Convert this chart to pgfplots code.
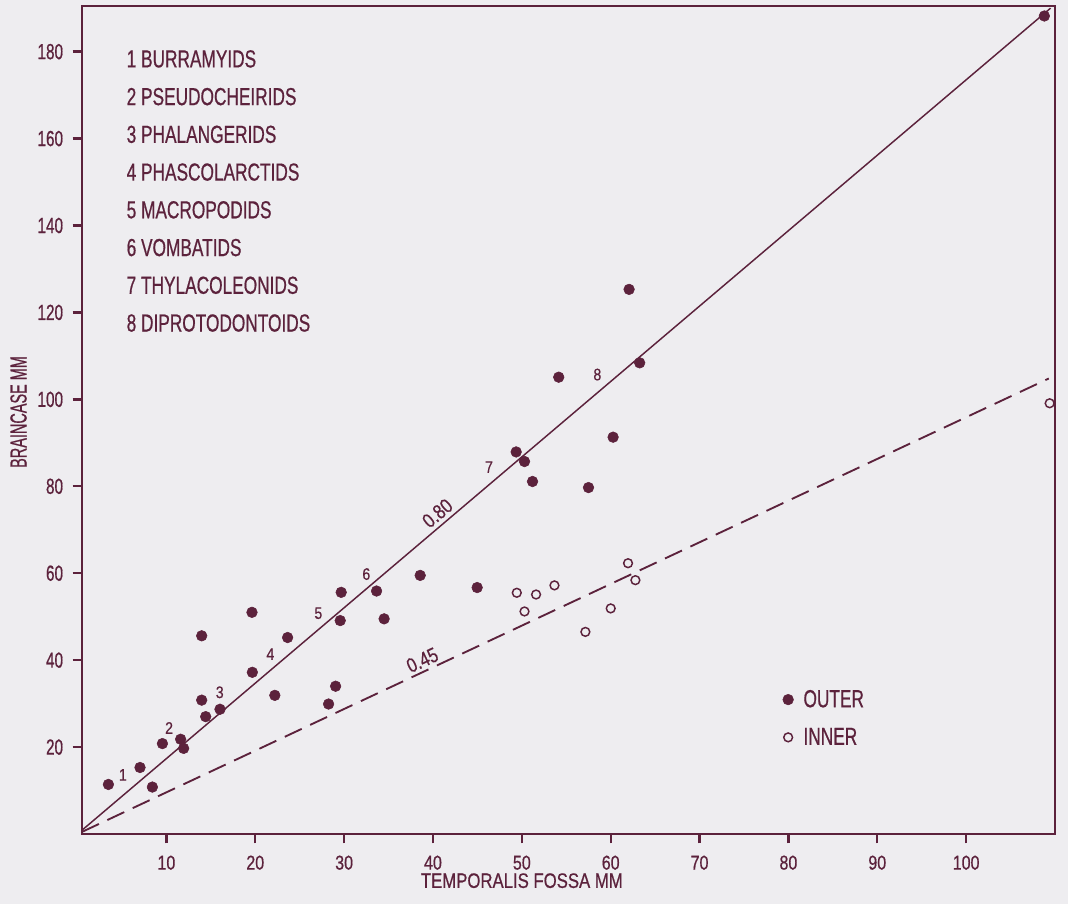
\documentclass[border=0pt]{standalone}
\usepackage{pgfplots}
\pgfplotsset{compat=1.18}
\usepackage{fontspec}
\setmainfont{Liberation Sans}[FakeStretch=0.72,FakeBold=0.6]
\newfontfamily\fA{Liberation Sans}[FakeStretch=0.70,FakeBold=0.6]
\newfontfamily\fY{Liberation Sans}[FakeStretch=0.62,FakeBold=0.6]
\newfontfamily\fB{Liberation Sans}[FakeStretch=0.80,FakeBold=0.6]
\newfontfamily\fC{Liberation Sans}[FakeStretch=0.85,FakeBold=0.6]
\definecolor{ink}{RGB}{92,34,60}
\definecolor{paper}{RGB}{238,237,240}
\begin{document}
\begin{tikzpicture}
\fill[paper] (-61.5pt,-52.5pt) rectangle (739.5pt,625.5pt);
\useasboundingbox (-61.5pt,-52.5pt) rectangle (739.5pt,625.5pt);
\begin{axis}[
  scale only axis, width=729.75pt, height=621pt,
  at={(0pt,0pt)}, anchor=south west,
  xmin=0.5, xmax=110, ymin=0, ymax=190.5,
  axis line style={ink, line width=2pt},
  xtick={10,20,...,100}, ytick={20,40,...,180},
  xtick pos=bottom, ytick pos=left,
  tick align=outside, major tick length=7pt,
  tick style={ink, line width=1.8pt},
  /pgf/number format/assume math mode=true,
  xticklabel style={font=\fB\fontsize{15}{17}\selectfont, text=ink, inner sep=0pt, yshift=-9pt},
  yticklabel style={font=\fA\fontsize{16.4}{18}\selectfont, text=ink, inner sep=0pt, xshift=-7pt},
  clip=false,
  legend style={draw=none, fill=none, at={(axis cs:79.3,33.5)}, anchor=north west,
    font=\fA\fontsize{18.5}{20}\selectfont, text=ink, row sep=12pt, inner sep=0pt,
    nodes={inner sep=1pt}},
  legend cell align=left,
  legend image code/.code={\path[draw=none,fill=none] (0cm,0cm) rectangle (0.52cm,0.01cm); \draw[#1] plot coordinates {(0.15cm,0cm)};},
]
% regression lines
\addplot[ink, line width=1.1pt, forget plot] coordinates {(0.5,0.87) (109.5,190)};
\addplot[ink, line width=1.4pt, dash pattern=on 14pt off 7pt, forget plot] coordinates {(0.5,0.48) (109.3,104.8)};
% outer
\addplot[only marks, mark=*, mark size=4pt, ink, mark options={fill=ink, draw=ink}] coordinates {
(3.47,11.4) (7.03,15.3) (8.42,10.8) (9.55,20.8) (11.6,21.8) (11.94,19.7)
(13.97,45.6) (13.97,30.8) (14.42,27.0) (16.03,28.7) (19.63,51.0) (19.67,37.2)
(22.2,31.9) (23.64,45.2) (28.25,29.9) (29.04,34.0) (29.67,55.6) (29.56,49.1)
(33.65,55.9) (34.5,49.5) (38.56,59.5) (44.97,56.7) (49.36,87.9) (50.3,85.7)
(51.2,81.1) (54.15,105.1) (57.5,79.7) (60.27,91.3) (62.07,125.3) (63.26,108.4)
(108.8,188.2)
};
\addlegendentry{OUTER}
% inner
\addplot[only marks, mark=o, mark size=3.3pt, ink, mark options={line width=1.1pt}] coordinates {
(49.43,55.5) (50.3,51.2) (51.6,55.1) (53.67,57.2) (57.15,46.5) (60.0,51.9)
(61.95,62.3) (62.78,58.4) (109.4,99.1)
};
\addlegendentry{INNER}
% group numbers
\begin{scope}[every node/.style={font=\fC\fontsize{12.5}{14}\selectfont, text=ink}]
\node at (axis cs:5.1,13.6) {1};
\node at (axis cs:10.3,24.4) {2};
\node at (axis cs:16.0,32.6) {3};
\node at (axis cs:21.7,41.4) {4};
\node at (axis cs:27.1,50.8) {5};
\node at (axis cs:32.5,59.8) {6};
\node at (axis cs:46.3,84.4) {7};
\node at (axis cs:58.5,105.7) {8};
\end{scope}
% slope labels
\node[font=\fB\fontsize{15.5}{17}\selectfont, text=ink, rotate=40.3, inner sep=0pt] at (axis cs:40.5,73.8) {0.80};
\node[font=\fB\fontsize{15.5}{17}\selectfont, text=ink, rotate=25.1, inner sep=0pt] at (axis cs:38.8,40.0) {0.45};
% key
\node[anchor=north west, inner sep=0pt, align=left, text=ink, font=\fA\fontsize{18.5}{28.3}\selectfont]
  at (axis cs:5.5,180.4) {1 BURRAMYIDS\\2 PSEUDOCHEIRIDS\\3 PHALANGERIDS\\4 PHASCOLARCTIDS\\5 MACROPODIDS\\6 VOMBATIDS\\7 THYLACOLEONIDS\\8 DIPROTODONTOIDS};
% axis labels
\node[anchor=north, inner sep=0pt, text=ink, font=\fB\fontsize{15.7}{18}\selectfont] at ([yshift=-29.25pt]axis cs:50,0) {TEMPORALIS FOSSA MM};
\node[rotate=90, inner sep=0pt, text=ink, font=\fY\fontsize{17.5}{19}\selectfont] at ([xshift=-47.6pt]axis cs:0.5,97.1) {BRAINCASE MM};
\end{axis}
\end{tikzpicture}
\end{document}
